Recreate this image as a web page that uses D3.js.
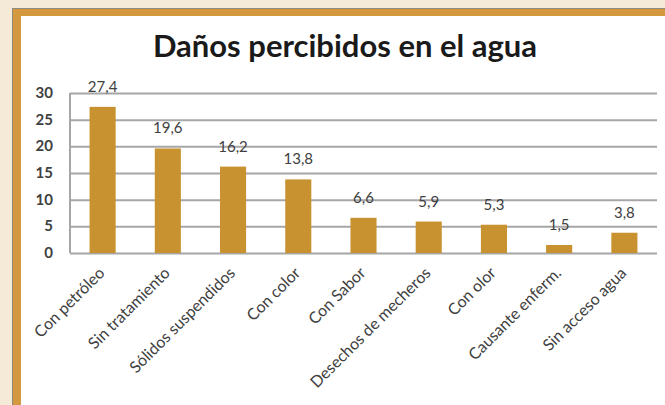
<!DOCTYPE html>
<html>
<head>
<meta charset="utf-8">
<script src="https://cdn.jsdelivr.net/npm/d3@7"></script>
<style>
  html, body { margin: 0; padding: 0; background: #f5ead8; }
  svg { display: block; }
</style>
</head>
<body>
<div id="mainDiv"></div>
<script>
'use strict';

// datos
var categorias = ['Con petróleo', 'Sin tratamiento', 'Sólidos suspendidos', 'Con color',
                  'Con Sabor', 'Desechos de mecheros', 'Con olor', 'Causante enferm.', 'Sin acceso agua'];
var valores = [27.4, 19.6, 16.2, 13.8, 6.6, 5.9, 5.3, 1.5, 3.8];
var ticksY = [0, 5, 10, 15, 20, 25, 30];
var titulo = 'Daños percibidos en el agua';

var myApp = {};

myApp.run = function() {
    var largura = 665, altura = 405;
    var fonte = 'Lato, "Open Sans", sans-serif';

    var svg = d3.select('#mainDiv').append('svg')
        .attr('width', largura)
        .attr('height', altura);

    // fundo e moldura
    svg.append('rect').attr('width', largura).attr('height', altura).attr('fill', '#f5ead8');
    svg.append('rect').attr('x', 12).attr('y', 8).attr('width', largura - 12).attr('height', altura - 8)
        .attr('fill', '#8f8a80');
    svg.append('rect').attr('x', 13).attr('y', 9).attr('width', largura - 13).attr('height', altura - 9)
        .attr('fill', '#d4983f');
    svg.append('rect').attr('x', 21).attr('y', 16).attr('width', largura - 21).attr('height', altura - 16)
        .attr('fill', '#ffffff');

    var area = {left: 70, right: 657, top: 93, bottom: 253};

    var x = d3.scaleBand().domain(categorias).range([area.left, area.right]).paddingInner(0.6).paddingOuter(0.3);
    var y = d3.scaleLinear().domain([0, 30]).range([area.bottom, area.top]);

    // grade
    var grade = svg.append('g')
        .attr('transform', 'translate(' + area.left + ',0)')
        .call(d3.axisLeft(y).tickValues(ticksY).tickSize(-(area.right - area.left)).tickFormat(''));
    grade.select('.domain').remove();
    grade.selectAll('line').attr('stroke', '#a6a6a6').attr('stroke-width', 2);

    svg.append('line')
        .attr('x1', area.left).attr('x2', area.left)
        .attr('y1', area.top).attr('y2', area.bottom)
        .attr('stroke', '#a6a6a6').attr('stroke-width', 2);

    // rótulos eixo Y
    svg.append('g').selectAll('text')
        .data(ticksY)
        .enter()
        .append('text')
        .attr('x', 53)
        .attr('y', function(d) { return y(d) + 5; })
        .attr('text-anchor', 'end')
        .attr('font-family', fonte)
        .attr('font-size', 15)
        .attr('font-weight', 'bold')
        .attr('fill', '#404040')
        .text(function(d) { return d; });

    // barras
    svg.append('g').selectAll('rect')
        .data(valores)
        .enter()
        .append('rect')
        .attr('x', function(d, i) { return x(categorias[i]); })
        .attr('y', function(d) { return y(d); })
        .attr('width', x.bandwidth())
        .attr('height', function(d) { return y(0) - y(d); })
        .attr('fill', '#c99230');

    // rótulos de valores
    svg.append('g').selectAll('text')
        .data(valores)
        .enter()
        .append('text')
        .attr('x', function(d, i) { return x(categorias[i]) + x.bandwidth() / 2; })
        .attr('y', function(d) { return y(d) - 15; })
        .attr('text-anchor', 'middle')
        .attr('font-family', fonte)
        .attr('font-size', 15)
        .attr('fill', '#404040')
        .text(function(d) { return String(d).replace('.', ','); });

    // rótulos categorias
    svg.append('g').selectAll('text')
        .data(categorias)
        .enter()
        .append('text')
        .attr('transform', function(d) {
            var cx = x(d) + x.bandwidth() / 2 + 3;
            return 'translate(' + cx + ',' + 274 + ') rotate(-45)';
        })
        .attr('text-anchor', 'end')
        .attr('font-family', fonte)
        .attr('font-size', 16)
        .attr('fill', '#404040')
        .text(function(d) { return d; });

    // título
    svg.append('text')
        .attr('x', 345)
        .attr('y', 57)
        .attr('text-anchor', 'middle')
        .attr('font-family', fonte)
        .attr('font-size', 31)
        .attr('font-weight', 'bold')
        .attr('fill', '#1a1a1a')
        .text(titulo);
};

window.onload = function() {
    myApp.run();
};
</script>
</body>
</html>
